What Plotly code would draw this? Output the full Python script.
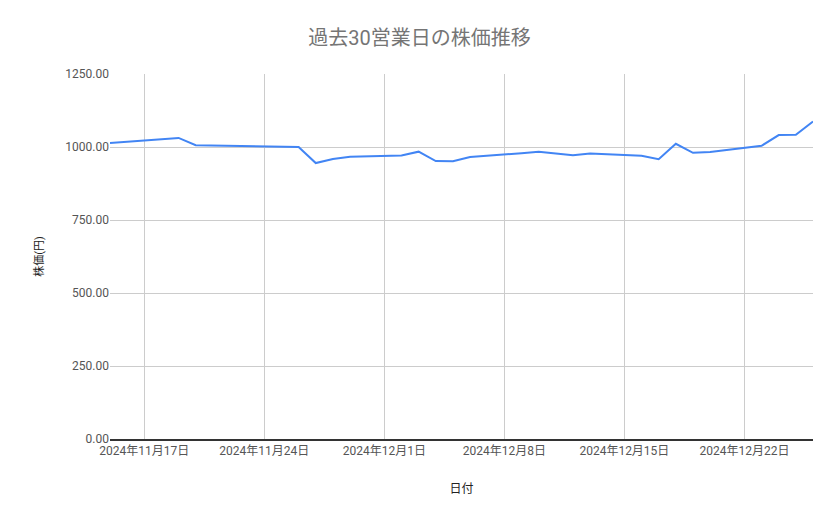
import plotly.graph_objects as go

dates = ["2024-11-15", "2024-11-18", "2024-11-19", "2024-11-20", "2024-11-21", "2024-11-22",
         "2024-11-25", "2024-11-26", "2024-11-27", "2024-11-28", "2024-11-29",
         "2024-12-02", "2024-12-03", "2024-12-04", "2024-12-05", "2024-12-06",
         "2024-12-09", "2024-12-10", "2024-12-11", "2024-12-12", "2024-12-13",
         "2024-12-16", "2024-12-17", "2024-12-18", "2024-12-19", "2024-12-20",
         "2024-12-23", "2024-12-24", "2024-12-25", "2024-12-26"]
prices = [1014, 1026, 1031, 1006, 1005, 1003,
          1002, 1000, 945, 959, 967,
          971, 984, 952, 951, 966,
          979, 984, 978, 972, 978,
          970, 958, 1011, 980, 983,
          1004, 1041, 1042, 1087]

tick_dates = ["2024-11-17", "2024-11-24", "2024-12-01", "2024-12-08", "2024-12-15", "2024-12-22"]
tick_text = [f"{d[:4]}年{int(d[5:7])}月{int(d[8:10])}日" for d in tick_dates]
y_ticks = [0, 250, 500, 750, 1000, 1250]

FONT = "Roboto, 'Noto Sans CJK JP', sans-serif"

fig = go.Figure()
fig.add_trace(go.Scatter(x=dates, y=prices, mode="lines",
                         line=dict(color="#4285F4", width=2), showlegend=False))

fig.update_layout(
    width=839, height=519,
    margin=dict(l=110, r=26, t=74, b=80),
    paper_bgcolor="white", plot_bgcolor="white",
    font=dict(family=FONT, color="#444444", size=12),
    title=dict(text="過去30営業日の株価推移", x=0.5, xanchor="center", y=0.927, yanchor="middle",
               font=dict(family=FONT, size=20, color="#757575")),
    xaxis=dict(
        type="date", range=["2024-11-15", "2024-12-26"],
        tickvals=tick_dates, ticktext=tick_text,
        showgrid=True, gridcolor="#cccccc", gridwidth=1,
        showline=True, linecolor="#333333", linewidth=1.5,
        ticks="", tickfont=dict(size=12, color="#555555"),
        title=dict(text="日付", font=dict(size=12, color="#222222"), standoff=27),
        zeroline=False,
    ),
    yaxis=dict(
        range=[0, 1250], tickvals=y_ticks, tickformat=".2f",
        showgrid=True, gridcolor="#cccccc", gridwidth=1,
        zeroline=False, showline=False, ticks="",
        tickfont=dict(size=12, color="#555555"),
        title=dict(text="株価(円)", font=dict(size=11, color="#222222"), standoff=19),
    ),
)

fig.write_html("out.html", config={"displayModeBar": False},
               post_script="document.body.style.margin='0';")
